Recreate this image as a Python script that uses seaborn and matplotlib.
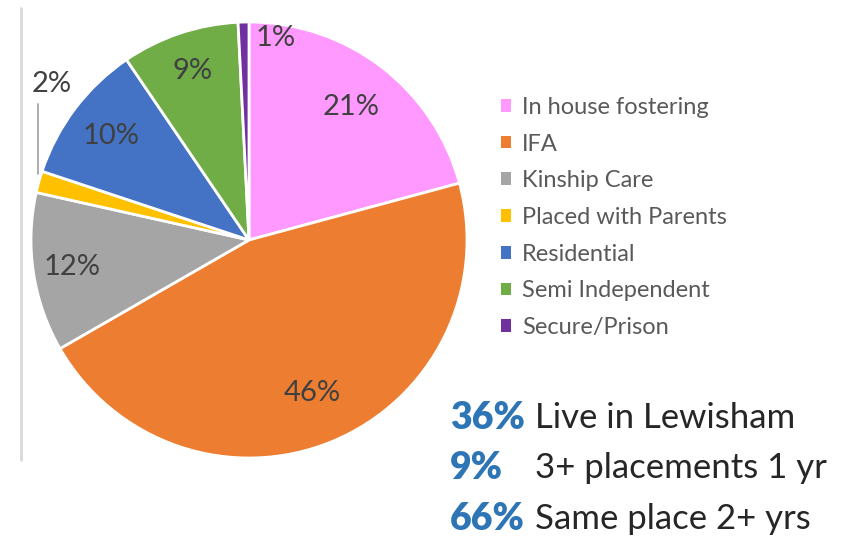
import matplotlib
matplotlib.use("Agg")
import matplotlib.pyplot as plt
import seaborn as sns
import numpy as np

categories = ["In house fostering", "IFA", "Kinship Care", "Placed with Parents",
              "Residential", "Semi Independent", "Secure/Prison"]
values = [20.8, 45.9, 11.8, 1.6, 10.4, 8.7, 0.8]
colors = ["#FF99FF", "#ED7D31", "#A5A5A5", "#FFC000", "#4472C4", "#70AD47", "#7030A0"]

stat_values = ["36%", "9%", "66%"]
stat_labels = ["Live in Lewisham", "3+ placements 1 yr", "Same place 2+ yrs"]

sns.set_theme(style="white")
plt.rcParams["font.family"] = ["Lato", "DejaVu Sans"]

W, H = 847, 537
fig = plt.figure(figsize=(W / 100, H / 100), dpi=100)
ax = fig.add_axes([0, 0, 1, 1])

cx, cy, r = 249, H - 240, 218
wedges, _ = ax.pie(values, colors=colors, startangle=90, counterclock=False,
                   center=(cx, cy), radius=r, frame=True,
                   wedgeprops=dict(edgecolor="white", linewidth=2))
ax.set_xlim(0, W)
ax.set_ylim(0, H)
ax.set_aspect("equal")
ax.axis("off")

lab_fs = 21
lab_col = "#404040"
dist = [0.77, 0.76, 0.82, None, 0.79, 0.82, None]
for w, v, d in zip(wedges, values, dist):
    if d is None:
        continue
    mid = np.deg2rad((w.theta1 + w.theta2) / 2)
    ax.text(cx + d * r * np.cos(mid), cy + d * r * np.sin(mid), f"{v:.0f}%",
            ha="center", va="center", fontsize=lab_fs, color=lab_col)

# small slices labelled outside
ax.text(52, H - 84, f"{values[3]:.0f}%", ha="center", va="center", fontsize=lab_fs, color=lab_col)
ax.plot([38, 38], [H - 104, H - 174], color="#A6A6A6", lw=1.3)
ax.text(276, H - 38, f"{values[6]:.0f}%", ha="center", va="center", fontsize=lab_fs, color=lab_col)

# thin left rule
fig.add_artist(plt.Line2D([21 / W, 21 / W], [1 - 8 / H, 1 - 460 / H], color="#D9D9D9", lw=2))

leg = ax.legend(wedges, categories, loc="upper left", bbox_to_anchor=(489 / W, 1 - 85 / H),
                bbox_transform=fig.transFigure, frameon=False, fontsize=17,
                handlelength=0.45, handleheight=0.45, handletextpad=0.45,
                labelspacing=0.665, borderpad=0)
for t in leg.get_texts():
    t.set_color("#595959")
for h in leg.legend_handles:
    h.set_edgecolor("none")

ys = [418, 468, 519]
for v, l, y in zip(stat_values, stat_labels, ys):
    ax.text(450, H - y, v, ha="left", va="center", fontsize=27, fontweight="heavy", color="#2E75B6")
    ax.text(535, H - y, l, ha="left", va="center", fontsize=25, color="#262626")

fig.savefig("out.png", dpi=100)
